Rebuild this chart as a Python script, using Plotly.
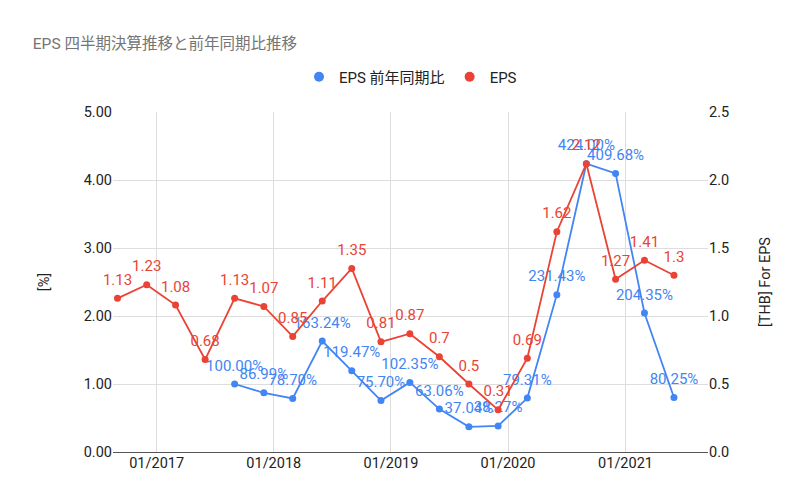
import plotly.graph_objects as go

dates = ["2016-09-01", "2016-12-01", "2017-03-01", "2017-06-01",
         "2017-09-01", "2017-12-01", "2018-03-01", "2018-06-01",
         "2018-09-01", "2018-12-01", "2019-03-01", "2019-06-01",
         "2019-09-01", "2019-12-01", "2020-03-01", "2020-06-01",
         "2020-09-01", "2020-12-01", "2021-03-01", "2021-06-01"]

eps = [1.13, 1.23, 1.08, 0.68, 1.13, 1.07, 0.85, 1.11, 1.35, 0.81,
       0.87, 0.70, 0.50, 0.31, 0.69, 1.62, 2.12, 1.27, 1.41, 1.30]

yoy = [None, None, None, None, 1.0000, 0.8699, 0.7870, 1.6324, 1.1947, 0.7570,
       1.0235, 0.6306, 0.3704, 0.3827, 0.7931, 2.3143, 4.2400, 4.0968, 2.0435, 0.8025]

left_ticks = [0, 1, 2, 3, 4, 5]
right_ticks = [0, 0.5, 1.0, 1.5, 2.0, 2.5]
x_ticks = ["2017-01-01", "2018-01-01", "2019-01-01", "2020-01-01", "2021-01-01"]
x_tick_labels = ["01/2017", "01/2018", "01/2019", "01/2020", "01/2021"]

BLUE = "#4285F4"
RED = "#EA4335"
FONT = "Roboto, 'Noto Sans CJK JP', sans-serif"
INK = "#222222"

yoy_text = ["" if v is None else f"{v*100:.2f}%" for v in yoy]
eps_text = [f"{v:g}" for v in eps]

fig = go.Figure()
# lines with markers
fig.add_trace(go.Scatter(
    x=dates, y=yoy, name="EPS 前年同期比", mode="lines+markers",
    line=dict(color=BLUE, width=1.8), marker=dict(color=BLUE, size=7),
    yaxis="y", showlegend=False, hoverinfo="skip",
))
fig.add_trace(go.Scatter(
    x=dates, y=eps, name="EPS", mode="lines+markers",
    line=dict(color=RED, width=1.8), marker=dict(color=RED, size=7),
    yaxis="y2", showlegend=False, hoverinfo="skip",
))
# data labels (transparent markers give the label a little extra lift)
fig.add_trace(go.Scatter(
    x=dates, y=yoy, mode="markers+text", text=yoy_text, textposition="top center",
    marker=dict(color="rgba(0,0,0,0)", size=14),
    textfont=dict(color=BLUE, size=15, family=FONT),
    cliponaxis=False, yaxis="y", showlegend=False, hoverinfo="skip",
))
fig.add_trace(go.Scatter(
    x=dates, y=eps, mode="markers+text", text=eps_text, textposition="top center",
    marker=dict(color="rgba(0,0,0,0)", size=14),
    textfont=dict(color=RED, size=15, family=FONT),
    cliponaxis=False, yaxis="y2", showlegend=False, hoverinfo="skip",
))
# legend entries (dot only, as in the reference)
fig.add_trace(go.Scatter(x=[None], y=[None], name="EPS 前年同期比", mode="markers",
                         marker=dict(color=BLUE, size=10), showlegend=True))
fig.add_trace(go.Scatter(x=[None], y=[None], name="EPS", mode="markers",
                         marker=dict(color=RED, size=10), showlegend=True))

fig.update_layout(
    width=800, height=495,
    margin=dict(l=105, r=100, t=104, b=51),
    paper_bgcolor="white", plot_bgcolor="white",
    font=dict(family=FONT, size=14, color=INK),
    title=dict(text="EPS 四半期決算推移と前年同期比推移", x=0.031, xanchor="left",
               y=0.929, yanchor="middle",
               font=dict(size=15.5, color="#757575", family=FONT)),
    showlegend=True,
    legend=dict(orientation="h", x=0.5, xanchor="center", y=1.103, yanchor="middle",
                font=dict(size=15, color=INK, family=FONT),
                itemwidth=30, traceorder="normal"),
    xaxis=dict(
        type="date", range=["2016-08-18", "2021-09-15"],
        tickvals=x_ticks, ticktext=x_tick_labels,
        showgrid=True, gridcolor="#dddddd", gridwidth=1,
        showline=False, zeroline=False, ticks="",
        tickfont=dict(size=14.5, color=INK),
    ),
    yaxis=dict(
        range=[0, 5], tickvals=left_ticks, tickformat=".2f",
        showgrid=True, gridcolor="#dddddd", zeroline=True, zerolinecolor="#555555",
        zerolinewidth=1, ticks="", ticklen=0,
        title=dict(text="[%]", font=dict(size=14.5, color=INK), standoff=30),
        tickfont=dict(size=14.5, color=INK),
    ),
    yaxis2=dict(
        range=[0, 2.5], tickvals=right_ticks, tickformat=".1f",
        overlaying="y", side="right", showgrid=False, zeroline=False,
        title=dict(text="[THB] For EPS", font=dict(size=14.5, color=INK), standoff=31),
        tickfont=dict(size=14.5, color=INK),
    ),
)

fig.write_html("out.html")
